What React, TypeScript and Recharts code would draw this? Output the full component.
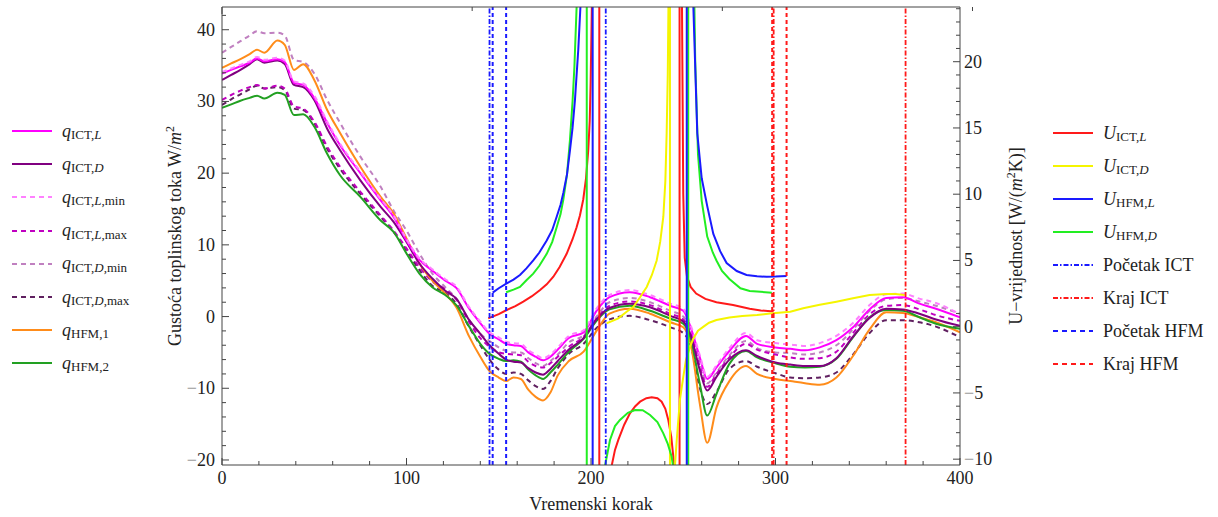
import { LineChart, Line, XAxis, YAxis, ReferenceLine } from 'recharts';

// time steps where the heat flux curves were read
const steps = [0, 5, 10, 15, 19, 23, 30, 34, 39, 44, 50, 57, 64, 75, 86, 93, 100, 107, 114, 121, 127, 134, 140, 145, 150, 154, 158, 162, 166, 170, 174, 178, 182, 188, 196, 203, 210, 221, 232, 243, 250, 254, 259, 263, 268, 275, 284, 290, 300, 308, 316, 324, 333, 342, 351, 360, 369, 378, 387, 400];

// heat flux density W/m2 (left axis)
const qIctL = [33.9, 34.4, 34.9, 35.4, 36.0, 35.6, 35.9, 35.5, 32.6, 32.3, 30.5, 27.0, 23.9, 20.0, 16.2, 13.9, 10.6, 7.9, 6.4, 5.0, 4.0, 1.1, -0.9, -2.4, -3.2, -3.8, -4.0, -4.1, -5.0, -5.6, -6.1, -5.6, -4.6, -3.0, -2.2, 0.8, 2.7, 3.4, 2.7, 1.5, 0.8, -1.5, -5.7, -8.7, -7.1, -4.8, -2.7, -3.8, -4.3, -4.5, -4.7, -4.3, -3.3, -1.5, 1.0, 2.6, 2.7, 1.8, 1.1, -0.1];
const qIctD = [33.0, 33.7, 34.4, 35.2, 35.9, 35.4, 35.7, 35.2, 32.3, 32.0, 30.2, 26.2, 23.2, 19.0, 15.3, 13.2, 10.4, 7.4, 5.3, 3.6, 2.5, -0.5, -2.4, -4.0, -5.2, -6.0, -6.3, -6.4, -7.2, -7.8, -8.1, -7.3, -6.2, -4.6, -3.0, -0.4, 1.2, 1.8, 1.3, 0.1, -0.7, -2.6, -7.5, -10.3, -8.4, -6.0, -4.7, -5.5, -6.4, -6.7, -6.9, -6.9, -5.8, -2.8, -0.2, 1.1, 1.0, 0.4, -0.4, -1.3];
const qIctLmin = [34.1, 34.6, 35.1, 35.6, 36.2, 35.8, 36.1, 35.7, 32.8, 32.5, 30.8, 27.2, 24.1, 20.2, 16.4, 14.1, 10.8, 8.1, 6.6, 5.2, 4.2, 1.3, -0.7, -2.2, -2.9, -3.5, -3.7, -3.8, -4.7, -5.3, -5.8, -5.3, -4.3, -2.7, -1.9, 1.1, 3.0, 3.7, 3.0, 1.8, 1.1, -1.2, -5.4, -8.4, -6.8, -4.4, -2.3, -3.3, -3.7, -3.9, -4.1, -3.7, -2.7, -0.9, 1.6, 3.1, 3.2, 2.5, 1.9, 0.3];
const qIctLmax = [30.2, 30.9, 31.5, 32.0, 32.3, 31.8, 32.2, 31.8, 29.3, 29.0, 27.2, 23.7, 20.9, 17.4, 14.1, 12.0, 9.5, 6.9, 4.9, 3.8, 2.4, -0.8, -3.0, -4.2, -5.0, -5.2, -5.3, -5.4, -6.3, -6.9, -7.1, -6.5, -5.6, -4.2, -2.8, -0.3, 1.5, 2.1, 1.6, 0.4, -0.4, -2.3, -7.0, -9.8, -8.0, -5.7, -3.8, -4.6, -5.3, -5.7, -5.9, -5.8, -4.9, -2.3, 0.3, 1.5, 1.6, 1.0, 0.2, -0.6];
const qIctDmin = [36.8, 37.6, 38.4, 39.2, 39.8, 39.5, 39.6, 39.2, 35.8, 35.5, 33.9, 30.2, 27.0, 22.3, 18.1, 14.8, 12.0, 8.8, 6.0, 4.1, 2.5, -0.5, -2.4, -3.4, -4.3, -4.8, -5.0, -5.0, -5.8, -6.5, -6.9, -6.2, -5.3, -3.6, -2.6, 0.0, 2.0, 2.6, 2.0, 0.8, 0.0, -2.0, -6.5, -9.3, -7.8, -5.4, -3.4, -4.4, -5.0, -5.1, -5.3, -5.0, -4.0, -1.8, 0.8, 2.4, 2.6, 2.1, 1.5, 0.4];
const qIctDmax = [29.5, 30.3, 31.0, 31.7, 32.2, 31.8, 32.0, 31.6, 29.0, 28.8, 27.0, 23.4, 20.6, 17.1, 13.9, 11.8, 9.2, 6.5, 4.3, 3.3, 1.8, -1.5, -4.0, -6.0, -7.4, -8.0, -7.8, -8.0, -8.9, -9.7, -10.1, -9.0, -7.2, -5.2, -3.8, -1.6, -0.4, 0.1, -0.5, -1.5, -2.3, -4.0, -10.0, -12.2, -10.5, -7.3, -6.2, -7.0, -7.9, -8.5, -8.6, -8.5, -7.8, -5.3, -2.3, -0.5, -0.5, -0.8, -1.4, -2.9];
const qHfm1 = [34.7, 35.3, 35.9, 36.6, 37.2, 36.8, 38.5, 37.9, 34.4, 35.2, 33.0, 28.8, 25.6, 20.9, 16.7, 14.4, 10.9, 7.4, 5.0, 3.2, 1.3, -2.8, -5.6, -7.6, -8.5, -9.0, -8.5, -8.7, -10.2, -11.2, -11.7, -10.6, -8.2, -6.2, -4.9, -2.0, 0.4, 1.1, 0.4, -0.8, -1.5, -3.8, -12.2, -17.6, -12.7, -9.0, -6.9, -8.0, -8.7, -9.0, -9.3, -9.5, -8.5, -5.5, -1.8, 0.6, 0.5, -0.1, -0.8, -2.2];
const qHfm2 = [29.1, 29.6, 30.1, 30.5, 30.8, 30.4, 31.2, 30.9, 28.1, 28.2, 26.5, 22.7, 19.7, 16.7, 13.4, 11.8, 8.8, 6.0, 4.1, 3.0, 1.6, -1.4, -3.8, -5.2, -5.9, -6.2, -6.1, -6.3, -7.4, -8.2, -8.7, -7.8, -6.7, -4.9, -3.1, -0.6, 1.0, 1.5, 0.8, -0.3, -1.0, -3.0, -9.4, -13.8, -10.8, -6.6, -4.8, -5.7, -6.5, -7.0, -7.1, -7.0, -5.9, -2.9, -0.1, 0.9, 0.8, -0.1, -1.0, -1.7];

// U-values W/(m2K) (right axis), [step, value]; +-150 stands for the asymptotes
const uIctL: [number, number][] = [[144.3, 0.63], [150, 0.95], [154.3, 1.26], [159, 1.55], [163.3, 1.89], [168, 2.3], [172.4, 2.77], [176, 3.2], [179.6, 3.77], [183, 4.5], [186.8, 5.5], [190, 6.6], [192.2, 7.5], [194, 8.4], [195.8, 9.6], [197.3, 11.2], [198.5, 13.3], [199.3, 15.5], [199.8, 18.4], [200.5, 24.5], [202, 50], [204.5, 150], [204.5, -150], [210, -20], [211.2, -10.5], [213, -9.3], [214.8, -8.55], [218, -7.4], [221.1, -6.54], [224, -6.0], [226.6, -5.66], [230, -5.4], [232.9, -5.33], [236, -5.4], [238.3, -5.66], [240.3, -6.2], [241.9, -7.04], [243.5, -8.3], [244.6, -9.8], [245.5, -11.5], [247, -30], [248, -150], [248, 150], [249.3, 24.5], [250, 10], [250.8, 5.2], [252, 3.8], [254, 3.0], [257, 2.5], [262, 2.1], [268, 1.85], [277, 1.64], [286, 1.35], [292, 1.22], [299, 1.15]];
const uIctD: [number, number][] = [[208.5, 0.26], [211, 0.4], [214.8, 0.63], [219.3, 1.13], [223, 1.5], [226.5, 2.2], [230.2, 3.0], [233, 3.9], [235.6, 5.0], [237.5, 6.4], [239.2, 8.3], [240.3, 11], [241, 14.6], [241.6, 19], [242, 24.5], [242.8, 150], [242.8, -150], [245, -15], [245.5, -10.5], [246.5, -8.5], [248.2, -5.5], [250, -3.8], [251.5, -2.5], [253.5, -1.6], [255.4, -0.9], [258, -0.3], [261, 0.0], [264, 0.3], [268, 0.5], [275, 0.7], [282, 0.8], [290, 0.88], [297, 1.0], [308, 1.13], [315, 1.39], [324, 1.65], [333, 1.89], [342, 2.15], [351, 2.39], [360, 2.47], [365, 2.47], [370, 2.4]];
const uHfmL: [number, number][] = [[146.7, 2.57], [150, 2.9], [154.3, 3.27], [158, 3.55], [161.5, 3.9], [165, 4.4], [168.7, 5.0], [172, 5.6], [176, 6.5], [179, 7.3], [181.4, 8.3], [183.5, 9.2], [185, 10.1], [187, 11.5], [188.6, 13.3], [190, 15.0], [191.3, 17.1], [193.1, 20.9], [194.4, 24.5], [196, 32], [198, 48], [200, 90], [200.9, 150], [200.9, -150], [251.9, -150], [251.9, 150], [253, 80], [254.5, 35], [255.4, 24.5], [257.6, 14.6], [260, 11.2], [263, 9.1], [266.3, 7.0], [270, 5.7], [273.5, 4.8], [279, 4.2], [284.3, 3.9], [290, 3.8], [295.2, 3.77], [300, 3.78], [306, 3.83]];
const uHfmD: [number, number][] = [[154, 2.6], [158, 2.8], [161.5, 3.0], [165, 3.5], [168.7, 4.0], [172, 4.6], [176, 5.5], [179, 6.4], [181.4, 7.5], [183.5, 8.5], [185, 9.6], [187, 11.5], [188.6, 14.1], [190, 17], [191, 19.6], [192.3, 24.5], [194, 35], [196, 70], [197.7, 150], [197.7, -150], [206, -30], [207.6, -10.5], [210.3, -8.55], [213, -7.5], [215.7, -7.04], [220, -6.5], [223.9, -6.29], [228, -6.3], [232, -6.66], [236, -7.2], [239.2, -8.05], [241.5, -8.8], [243.7, -9.8], [245, -11], [248, -30], [252.7, -150], [252.7, 150], [254, 60], [255.4, 30], [256.5, 20], [258, 13], [260, 9.5], [263, 6.8], [266, 5.6], [268, 5.0], [271, 4.2], [275, 3.6], [281, 2.9], [286, 2.7], [290, 2.65], [298, 2.57]];

// start / end markers
const startIct = [145, 208];
const startHfm = [146.7, 154];
const endIct = [299, 370.5];
const endHfm = [298.2, 306];

// ticks (majors labelled, the rest are minor marks)
const xTicks = Array.from({ length: 21 }, (_, i) => i * 20);
const leftTicks = Array.from({ length: 32 }, (_, i) => -20 + i * 2);
const rightTicks = Array.from({ length: 35 }, (_, i) => -10 + i);

const qTable = steps.map((x, i) => ({
  x,
  qIctL: qIctL[i],
  qIctD: qIctD[i],
  qIctLmin: qIctLmin[i],
  qIctLmax: qIctLmax[i],
  qIctDmin: qIctDmin[i],
  qIctDmax: qIctDmax[i],
  qHfm1: qHfm1[i],
  qHfm2: qHfm2[i],
}));
const toRows = (pts: [number, number][]) => pts.map(([x, u]) => ({ x, u }));

const FONT = '"Liberation Serif", "Times New Roman", serif';
const FRAME = '#444';
const TXT = '#222';

const C = {
  qIctL: '#ff00ff',
  qIctD: '#800080',
  qIctLmin: '#ff80ff',
  qIctLmax: '#c000c0',
  qIctDmin: '#c080c0',
  qIctDmax: '#602060',
  qHfm1: '#ff8c1a',
  qHfm2: '#22a022',
  uIctL: '#ff1a1a',
  uIctD: '#f5f500',
  uHfmL: '#1a1aff',
  uHfmD: '#22ee22',
};
const DASH = '5 4';
const DASHDOT = '5 2 1.5 2';

const Num = ({ v }: { v: number }) =>
  v < 0 ? (
    <>
      <tspan fill="#999">−</tspan>
      {Math.abs(v)}
    </>
  ) : (
    <>{v}</>
  );

const BottomTick = ({ x, y, payload }: any) => {
  const v = payload.value;
  const major = v % 100 === 0;
  return (
    <g>
      <line x1={x} x2={x} y1={y} y2={y - (major ? 7 : 4)} stroke={FRAME} />
      {major && (
        <text x={x} y={y + 19} textAnchor="middle" fontFamily={FONT} fontSize={18} fill={TXT}>
          <Num v={v} />
        </text>
      )}
    </g>
  );
};

const TopTick = ({ x, y, payload }: any) => {
  const major = payload.value % 100 === 0;
  return <line x1={x} x2={x} y1={y} y2={y + (major ? 7 : 4)} stroke={FRAME} />;
};

const LeftTick = ({ x, y, payload }: any) => {
  const v = payload.value;
  const major = v % 10 === 0;
  return (
    <g>
      <line x1={x} x2={x + (major ? 7 : 4)} y1={y} y2={y} stroke={FRAME} />
      {major && (
        <text x={x - 7} y={y + 6} textAnchor="end" fontFamily={FONT} fontSize={18} fill={TXT}>
          <Num v={v} />
        </text>
      )}
    </g>
  );
};

const RightTick = ({ x, y, payload }: any) => {
  const v = payload.value;
  const major = v % 5 === 0;
  return (
    <g>
      <line x1={x} x2={x - (major ? 7 : 4)} y1={y} y2={y} stroke={FRAME} />
      {major && (
        <text x={x + 4} y={y + 6} textAnchor="start" fontFamily={FONT} fontSize={18} fill={TXT}>
          <Num v={v} />
        </text>
      )}
    </g>
  );
};

const Sub = ({ children }: { children: any }) => (
  <span style={{ fontSize: 13, position: 'relative', top: 4 }}>{children}</span>
);

const qLegend = [
  { sub: <>ICT,<i>L</i></>, color: C.qIctL, dash: undefined },
  { sub: <>ICT,<i>D</i></>, color: C.qIctD, dash: undefined },
  { sub: <>ICT,<i>L</i>,min</>, color: C.qIctLmin, dash: DASH },
  { sub: <>ICT,<i>L</i>,max</>, color: C.qIctLmax, dash: DASH },
  { sub: <>ICT,<i>D</i>,min</>, color: C.qIctDmin, dash: DASH },
  { sub: <>ICT,<i>D</i>,max</>, color: C.qIctDmax, dash: DASH },
  { sub: <>HFM,1</>, color: C.qHfm1, dash: undefined },
  { sub: <>HFM,2</>, color: C.qHfm2, dash: undefined },
];

const uLegend = [
  { label: <><i>U</i><Sub>ICT,<i>L</i></Sub></>, color: C.uIctL, dash: undefined },
  { label: <><i>U</i><Sub>ICT,<i>D</i></Sub></>, color: C.uIctD, dash: undefined },
  { label: <><i>U</i><Sub>HFM,<i>L</i></Sub></>, color: C.uHfmL, dash: undefined },
  { label: <><i>U</i><Sub>HFM,<i>D</i></Sub></>, color: C.uHfmD, dash: undefined },
  { label: <>Početak ICT</>, color: '#1a1aff', dash: DASHDOT },
  { label: <>Kraj ICT</>, color: '#ff1a1a', dash: DASHDOT },
  { label: <>Početak HFM</>, color: '#1a1aff', dash: DASH },
  { label: <>Kraj HFM</>, color: '#ff1a1a', dash: DASH },
];

const Swatch = ({ color, dash }: { color: string; dash?: string }) => (
  <svg width={40} height={4} style={{ marginRight: 10, flex: 'none' }}>
    <line x1={0} x2={40} y1={2} y2={2} stroke={color} strokeWidth={2} strokeDasharray={dash} />
  </svg>
);

const legendRow = (top: number, left: number): React.CSSProperties => ({
  position: 'absolute',
  left,
  top: top - 12,
  height: 24,
  display: 'flex',
  alignItems: 'center',
  fontSize: 18,
  color: TXT,
  whiteSpace: 'nowrap',
});

const App = () => {
  return (
    <div style={{ position: 'absolute', left: 0, top: 0, width: 1218, height: 517, fontFamily: FONT, background: '#fff' }}>
      <LineChart width={1218} height={517} data={qTable} margin={{ top: 6, right: 257, bottom: 51, left: 221 }}>
        <XAxis
          dataKey="x"
          type="number"
          domain={[0, 400]}
          ticks={xTicks}
          interval={0}
          height={1}
          tickSize={0}
          tickMargin={0}
          tickLine={false}
          allowDataOverflow
          axisLine={{ stroke: FRAME }}
          tick={(p: any) => <BottomTick {...p} />}
        />
        <XAxis
          xAxisId="top"
          orientation="top"
          type="number"
          domain={[0, 400]}
          ticks={xTicks}
          interval={0}
          height={1}
          tickSize={0}
          tickMargin={0}
          tickLine={false}
          allowDataOverflow
          axisLine={{ stroke: FRAME }}
          tick={(p: any) => <TopTick {...p} />}
        />
        <YAxis
          yAxisId="left"
          type="number"
          domain={[-20.7, 43.17]}
          ticks={leftTicks}
          interval={0}
          width={1}
          tickSize={0}
          tickMargin={0}
          tickLine={false}
          allowDataOverflow
          axisLine={{ stroke: FRAME }}
          tick={(p: any) => <LeftTick {...p} />}
        />
        <YAxis
          yAxisId="right"
          orientation="right"
          type="number"
          domain={[-10.44, 24.13]}
          ticks={rightTicks}
          interval={0}
          width={1}
          tickSize={0}
          tickMargin={0}
          tickLine={false}
          allowDataOverflow
          axisLine={{ stroke: FRAME }}
          tick={(p: any) => <RightTick {...p} />}
        />

        <Line yAxisId="left" type="monotone" dataKey="qIctDmin" stroke={C.qIctDmin} strokeWidth={2} strokeDasharray={DASH} dot={false} isAnimationActive={false} />
        <Line yAxisId="left" type="monotone" dataKey="qIctDmax" stroke={C.qIctDmax} strokeWidth={2} strokeDasharray={DASH} dot={false} isAnimationActive={false} />
        <Line yAxisId="left" type="monotone" dataKey="qIctLmax" stroke={C.qIctLmax} strokeWidth={2} strokeDasharray={DASH} dot={false} isAnimationActive={false} />
        <Line yAxisId="left" type="monotone" dataKey="qHfm1" stroke={C.qHfm1} strokeWidth={2} dot={false} isAnimationActive={false} />
        <Line yAxisId="left" type="monotone" dataKey="qHfm2" stroke={C.qHfm2} strokeWidth={2} dot={false} isAnimationActive={false} />
        <Line yAxisId="left" type="monotone" dataKey="qIctD" stroke={C.qIctD} strokeWidth={2} dot={false} isAnimationActive={false} />
        <Line yAxisId="left" type="monotone" dataKey="qIctL" stroke={C.qIctL} strokeWidth={2} dot={false} isAnimationActive={false} />
        <Line yAxisId="left" type="monotone" dataKey="qIctLmin" stroke={C.qIctLmin} strokeWidth={2} strokeDasharray={DASH} dot={false} isAnimationActive={false} />

        <Line yAxisId="right" data={toRows(uIctL)} dataKey="u" type="linear" stroke={C.uIctL} strokeWidth={2} dot={false} isAnimationActive={false} />
        <Line yAxisId="right" data={toRows(uIctD)} dataKey="u" type="linear" stroke={C.uIctD} strokeWidth={2} dot={false} isAnimationActive={false} />
        <Line yAxisId="right" data={toRows(uHfmD)} dataKey="u" type="linear" stroke={C.uHfmD} strokeWidth={2} dot={false} isAnimationActive={false} />
        <Line yAxisId="right" data={toRows(uHfmL)} dataKey="u" type="linear" stroke={C.uHfmL} strokeWidth={2} dot={false} isAnimationActive={false} />

        {startIct.map((x) => (
          <ReferenceLine key={`si${x}`} yAxisId="left" x={x} stroke="#1a1aff" strokeWidth={1.8} strokeDasharray={DASHDOT} />
        ))}
        {startHfm.map((x) => (
          <ReferenceLine key={`sh${x}`} yAxisId="left" x={x} stroke="#1a1aff" strokeWidth={2} strokeDasharray="4 3" />
        ))}
        {endIct.map((x) => (
          <ReferenceLine key={`ei${x}`} yAxisId="left" x={x} stroke="#ff1a1a" strokeWidth={1.8} strokeDasharray={DASHDOT} />
        ))}
        {endHfm.map((x) => (
          <ReferenceLine key={`eh${x}`} yAxisId="left" x={x} stroke="#ff1a1a" strokeWidth={2} strokeDasharray="4 3" />
        ))}
      </LineChart>

      {/* axis titles */}
      <div
        style={{
          position: 'absolute',
          left: 174,
          top: 236,
          transform: 'translate(-50%, -50%) rotate(-90deg)',
          fontSize: 18,
          color: TXT,
          whiteSpace: 'nowrap',
        }}
      >
        Gustoća toplinskog toka W/<i>m</i>
        <sup style={{ fontSize: 12 }}>2</sup>
      </div>
      <div
        style={{
          position: 'absolute',
          left: 1015,
          top: 236,
          transform: 'translate(-50%, -50%) rotate(-90deg)',
          fontSize: 18,
          color: TXT,
          whiteSpace: 'nowrap',
        }}
      >
        U−vrijednost [W/(<i>m</i>
        <sup style={{ fontSize: 12 }}>2</sup>K)]
      </div>
      <div style={{ position: 'absolute', left: 591, top: 504, transform: 'translate(-50%, -50%)', fontSize: 18, color: TXT, whiteSpace: 'nowrap' }}>
        Vremenski korak
      </div>

      {/* left legend */}
      {qLegend.map((item, i) => (
        <div key={`ql${i}`} style={legendRow(131 + i * 33.2, 12)}>
          <Swatch color={item.color} dash={item.dash} />
          <i>q</i>
          <Sub>{item.sub}</Sub>
        </div>
      ))}

      {/* right legend */}
      {uLegend.map((item, i) => (
        <div key={`ul${i}`} style={legendRow(133 + i * 33, 1053)}>
          <Swatch color={item.color} dash={item.dash} />
          {item.label}
        </div>
      ))}
    </div>
  );
};

export default App;
